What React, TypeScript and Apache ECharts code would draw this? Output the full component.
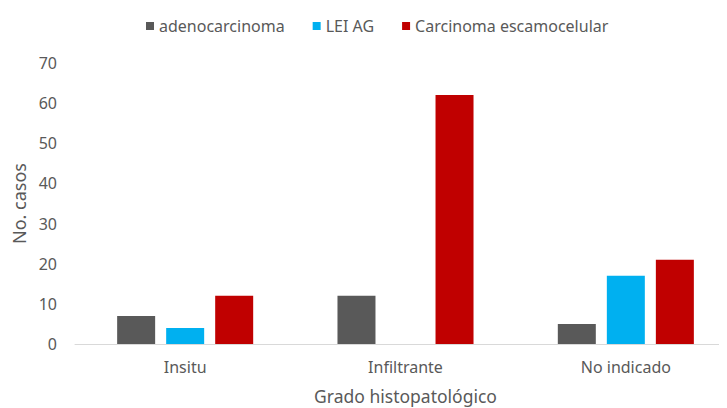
import React, { useEffect, useRef } from "react";
import * as echarts from "echarts";

const categories = ["Insitu", "Infiltrante", "No indicado"];
const seriesNames = ["adenocarcinoma", "LEI AG", "Carcinoma escamocelular"];
const adenocarcinoma = [7, 12, 5];
const leiAG = [4, 0, 17];
const carcinomaEscamocelular = [12, 62, 21];
const yTicks = { min: 0, max: 70, interval: 10 };
const colors = ["#595959", "#00B0F0", "#C00000"];

export default function App() {
  const ref = useRef<HTMLDivElement>(null);
  useEffect(() => {
    if (!ref.current) return;
    const chart = echarts.init(ref.current, null, { renderer: "svg" });
    const font = "Noto Sans";
    const data = [adenocarcinoma, leiAG, carcinomaEscamocelular];
    chart.setOption({
      animation: false,
      textStyle: { fontFamily: font, color: "#595959" },
      legend: {
        top: 13,
        left: 141,
        itemWidth: 8,
        itemHeight: 8,
        itemGap: 28,
        icon: "rect",
        textStyle: { fontFamily: font, fontSize: 16, color: "#595959" },
        data: seriesNames,
      },
      grid: { left: 75, width: 661, top: 63, bottom: 64, outerBoundsMode: "none", containLabel: false },
      xAxis: {
        type: "category",
        data: categories,
        axisLine: { lineStyle: { color: "#D9D9D9", width: 1 } },
        axisTick: { show: false },
        axisLabel: { color: "#595959", fontSize: 16, fontFamily: font, margin: 15 },
        name: "Grado histopatológico",
        nameLocation: "middle",
        nameGap: 42,
        nameTextStyle: { color: "#595959", fontSize: 17.5, fontFamily: font, lineHeight: 20 },
      },
      yAxis: {
        type: "value",
        min: yTicks.min,
        max: yTicks.max,
        interval: yTicks.interval,
        axisLine: { show: false },
        axisTick: { show: false },
        splitLine: { show: false },
        axisLabel: { color: "#595959", fontSize: 16, fontFamily: font, margin: 18 },
        name: "No. casos",
        nameLocation: "middle",
        nameGap: 47,
        nameTextStyle: { color: "#595959", fontSize: 18, fontFamily: font },
      },
      series: seriesNames.map((name, i) => ({
        name,
        type: "bar",
        data: data[i],
        barWidth: 38,
        barGap: "29%",
        itemStyle: { color: colors[i] },
      })),
    });
    return () => chart.dispose();
  }, []);
  return <div ref={ref} style={{ width: 727, height: 408, marginLeft: -8, marginTop: -8 }} />;
}
